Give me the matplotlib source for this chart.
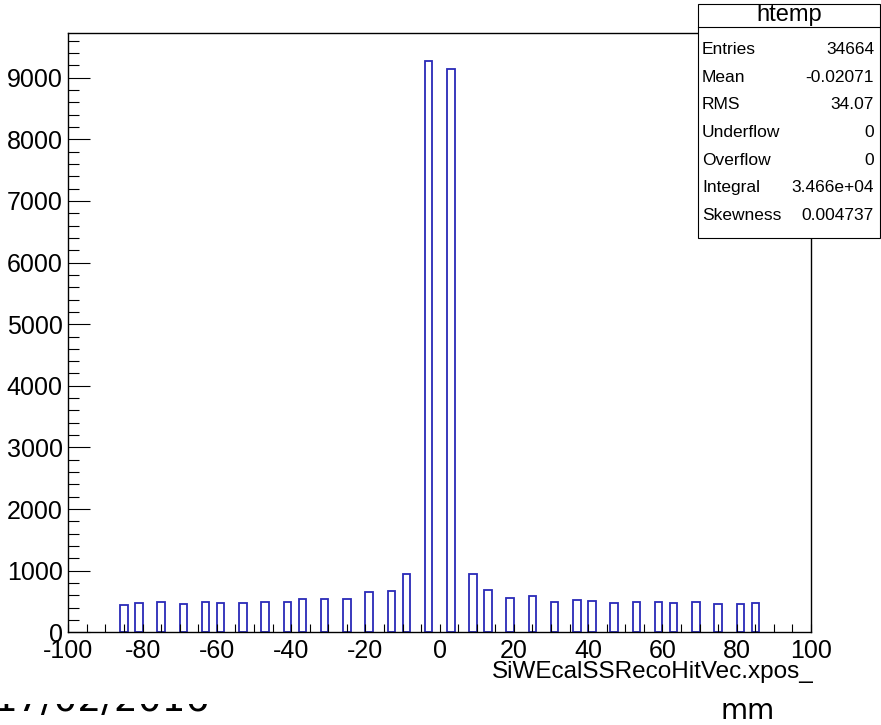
import matplotlib
matplotlib.use("Agg")
import matplotlib.pyplot as plt
from matplotlib.patches import Rectangle
from matplotlib.ticker import MultipleLocator

plt.rcParams['font.family'] = ['Liberation Sans', 'DejaVu Sans']
plt.rcParams['axes.unicode_minus'] = False

# ---- data ----
bin_width = 2
bin_left = [-86, -82, -76, -70, -64, -60, -54, -48, -42, -38, -32, -26, -20, -14, -10, -4,
            2, 8, 12, 18, 24, 30, 36, 40, 46, 52, 58, 62, 68, 74, 80, 84]
counts = [446, 476, 489, 462, 489, 476, 476, 486, 489, 534, 534, 534, 647, 663, 949, 9278,
          9148, 949, 692, 554, 584, 492, 521, 505, 479, 492, 492, 479, 492, 462, 462, 479]
x_range = (-100, 100)
y_max = 9730
x_title = "SiWEcalSSRecoHitVec.xpos_"
stat_title = "htemp"
stat_names = ["Entries", "Mean", "RMS", "Underflow", "Overflow", "Integral", "Skewness"]
stat_values = ["34664", "-0.02071", "34.07", "0", "0", "3.466e+04", "0.004737"]
date_text = "17/02/2016"
unit_text = "mm"

W, H = 881, 725
fig = plt.figure(figsize=(W / 100, H / 100), dpi=100)
fig.patch.set_facecolor('white')

L, R, T, B = 68.3, 811, 32.7, 632.3
ax = fig.add_axes([L / W, (H - B) / H, (R - L) / W, (B - T) / H])
ax.bar(bin_left, counts, width=bin_width, align='edge', fill=False,
       edgecolor='#2a2ab8', linewidth=1.3)
ax.set_xlim(*x_range)
ax.set_ylim(0, y_max)

for s in ax.spines.values():
    s.set_linewidth(1.0)
    s.set_color('black')

ax.xaxis.set_major_locator(MultipleLocator(20))
ax.xaxis.set_minor_locator(MultipleLocator(5))
ax.yaxis.set_major_locator(MultipleLocator(1000))
ax.yaxis.set_minor_locator(MultipleLocator(200))
px = 0.72
ax.tick_params(axis='x', which='both', direction='in', length=8 * px, width=0.8,
               top=False, labelsize=18, pad=5)
ax.tick_params(axis='y', which='major', direction='in', length=22 * px, width=0.8,
               right=False, labelsize=18, pad=4)
ax.tick_params(axis='y', which='minor', direction='in', length=11 * px, width=0.8,
               right=False)

# overlay in pixel coordinates
ov = fig.add_axes([0, 0, 1, 1], zorder=5)
ov.set_xlim(0, W)
ov.set_ylim(H, 0)
ov.axis('off')

ov.text(814, 672, x_title, ha='right', va='center', fontsize=17.5)

# stats box
bx0, bx1, by0, by1 = 698, 880, 4, 238
ov.add_patch(Rectangle((bx0, by0), bx1 - bx0, by1 - by0, facecolor='white',
                       edgecolor='black', linewidth=0.8))
ov.plot([bx0, bx1], [27, 27], color='black', linewidth=0.8)
ov.text((bx0 + bx1) / 2, 15, stat_title, ha='center', va='center', fontsize=17)
row_y = [49, 77, 104, 132, 160, 187, 215]
for yy, n, v in zip(row_y, stat_names, stat_values):
    ov.text(702, yy, n, ha='left', va='center', fontsize=12.5)
    ov.text(874, yy, v, ha='right', va='center', fontsize=12.5)

# text outside the canvas: date mostly hidden behind the canvas
ov.text(-6, 711, date_text, ha='left', va='baseline', fontsize=27,
        family='DejaVu Sans', zorder=1)
ov.add_patch(Rectangle((0, 668), 320, 36, facecolor='white', edgecolor='none',
                       zorder=2))
ov.text(748, 719, unit_text, ha='center', va='baseline', fontsize=20,
        family='DejaVu Sans')

fig.savefig("out.png", dpi=100)
